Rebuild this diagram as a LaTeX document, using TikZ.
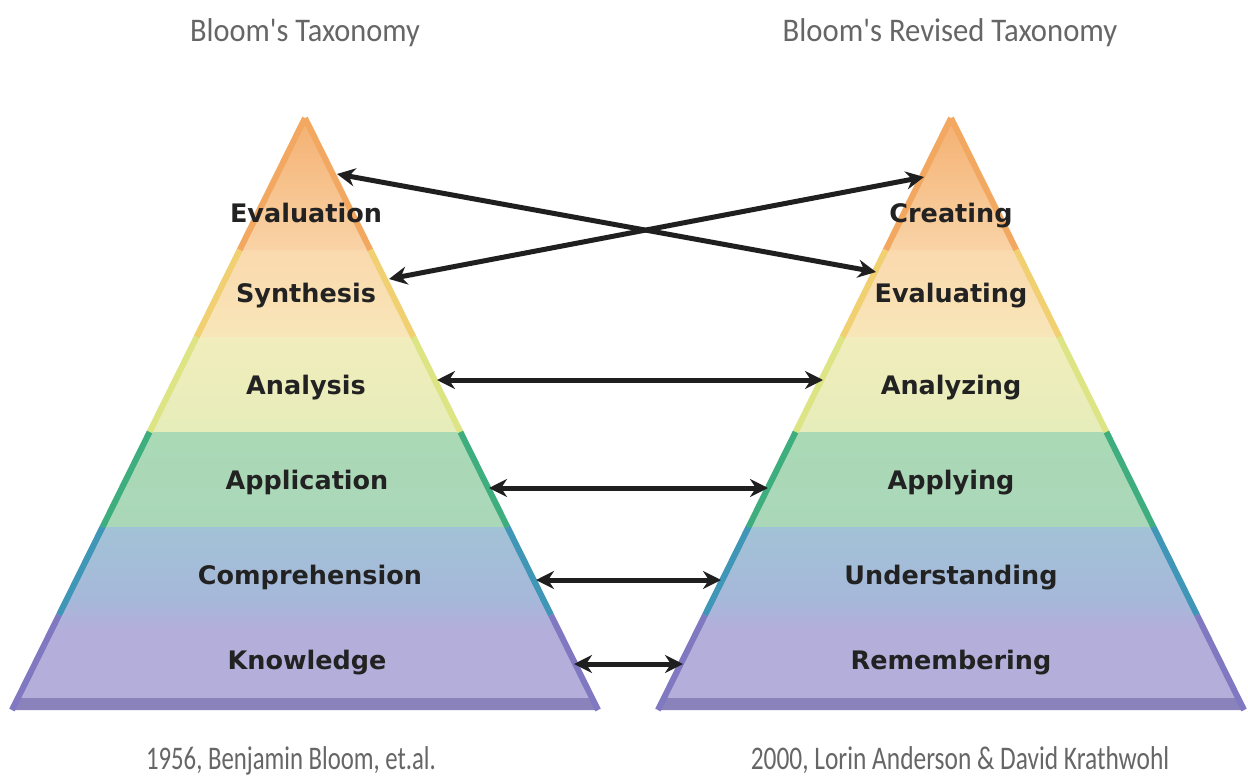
\documentclass[tikz,border=0pt]{standalone}
\usepackage{fontspec}
\setmainfont{DejaVu Sans}
\newfontfamily\captionfont{Carlito}
\usetikzlibrary{arrows.meta}

% band fills
\definecolor{apexC}{HTML}{F4AE6E}
\definecolor{evalC}{HTML}{F9D3A6}
\definecolor{synthTop}{HTML}{FAD9AE}
\definecolor{synthBot}{HTML}{F8E6B8}
\definecolor{analTop}{HTML}{F1EDBC}
\definecolor{analBot}{HTML}{E6EDBA}
\definecolor{applC}{HTML}{AAD9B6}
\definecolor{compTop}{HTML}{A2C2D6}
\definecolor{compBot}{HTML}{A6B8DA}
\definecolor{knowC}{HTML}{B4AEDB}
\definecolor{baseC}{HTML}{8A82BA}
% edge strokes
\definecolor{edgeOr}{HTML}{F2A860}
\definecolor{edgeYe}{HTML}{F0D070}
\definecolor{edgeLi}{HTML}{DDE484}
\definecolor{edgeGr}{HTML}{3FAE7E}
\definecolor{edgeBl}{HTML}{3F96B6}
\definecolor{edgePu}{HTML}{8078C0}
% text
\definecolor{capGray}{HTML}{666666}
\definecolor{lvlText}{HTML}{222222}

\tikzset{
  level/.style={font=\bfseries\fontsize{25.5}{27}\selectfont, text=lvlText, anchor=base, inner sep=0pt},
  caption/.style={font=\captionfont\fontsize{33}{36}\selectfont, text=capGray, anchor=base, inner sep=0pt},
  link/.style={line width=5pt, draw=black!88,
    {Stealth[length=18pt,width=18pt]}-{Stealth[length=18pt,width=18pt]}},
  edgeline/.style={line width=6pt, line cap=butt}
}

% pyramid with apex at (#1,118) and base half-width 293 at y=710
\newcommand\pyramidat[1]{%
  \begin{scope}
    \clip (#1,118) -- ({#1-293},710) -- ({#1+293},710) -- cycle;
    \shade[top color=apexC, bottom color=evalC] ({#1-300},110) rectangle ({#1+300},250);
    \shade[top color=synthTop, bottom color=synthBot] ({#1-300},250) rectangle ({#1+300},337);
    \shade[top color=analTop, bottom color=analBot] ({#1-300},337) rectangle ({#1+300},432);
    \shade[top color=applC, bottom color=applC!92!compTop] ({#1-300},432) rectangle ({#1+300},527);
    \shade[top color=compTop, bottom color=compBot] ({#1-300},527) rectangle ({#1+300},600);
    \shade[top color=compBot, bottom color=knowC] ({#1-300},600) rectangle ({#1+300},630);
    \fill[knowC] ({#1-300},630) rectangle ({#1+300},698);
    \fill[baseC] ({#1-300},698) rectangle ({#1+300},711);
  \end{scope}
  \foreach \ya/\yb/\col in {118/250/edgeOr, 250/337/edgeYe, 337/432/edgeLi,
                            432/527/edgeGr, 527/615/edgeBl, 615/710/edgePu}{
    \draw[edgeline, draw=\col] ({#1-0.495*(\ya-118)},\ya) -- ({#1-0.495*(\yb-118)},\yb);
    \draw[edgeline, draw=\col] ({#1+0.495*(\ya-118)},\ya) -- ({#1+0.495*(\yb-118)},\yb);
  }
}

\begin{document}
\begin{tikzpicture}[x=1pt,y=-1pt]
  \useasboundingbox[fill=white] (0,0) rectangle (1248,776);

  \pyramidat{305}
  \pyramidat{951}

  % titles and captions
  \node[caption] (titleL) at (305,42) {\scalebox{0.92}[1]{Bloom's Taxonomy}};
  \node[caption] (titleR) at (950,42) {\scalebox{0.93}[1]{Bloom's Revised Taxonomy}};
  \node[caption] (credL) at (291,769) {\scalebox{0.75}[1]{1956, Benjamin Bloom, et.al.}};
  \node[caption] (credR) at (960,769) {\scalebox{0.77}[1]{2000, Lorin Anderson \& David Krathwohl}};

  % level labels
  \node[level] (evaluation) at (306,222) {Evaluation};
  \node[level] (synthesis) at (306,302) {Synthesis};
  \node[level] (analysis) at (306,394) {Analysis};
  \node[level] (application) at (307,489) {Application};
  \node[level] (comprehension) at (310,584) {Comprehension};
  \node[level] (knowledge) at (307,669) {Knowledge};

  \node[level] (creating) at (951,222) {Creating};
  \node[level] (evaluating) at (951,302) {Evaluating};
  \node[level] (analyzing) at (951,394) {Analyzing};
  \node[level] (applying) at (951,489) {Applying};
  \node[level] (understanding) at (951,584) {Understanding};
  \node[level] (remembering) at (951,669) {Remembering};

  % connector ends on the pyramid edges
  \coordinate (eL) at (337,174);
  \coordinate (eR) at (876,272);
  \coordinate (sL) at (389,279);
  \coordinate (sR) at (924,177);
  \coordinate (aL) at (437,380);
  \coordinate (aR) at (823,380);
  \coordinate (pL) at (489,488);
  \coordinate (pR) at (768,488);
  \coordinate (cL) at (536,580);
  \coordinate (cR) at (721,580);
  \coordinate (kL) at (574,664);
  \coordinate (kR) at (683,664);

  \draw[link] (eL) -- (eR);
  \draw[link] (sL) -- (sR);
  \draw[link] (aL) -- (aR);
  \draw[link] (pL) -- (pR);
  \draw[link] (cL) -- (cR);
  \draw[link] (kL) -- (kR);
\end{tikzpicture}
\end{document}
